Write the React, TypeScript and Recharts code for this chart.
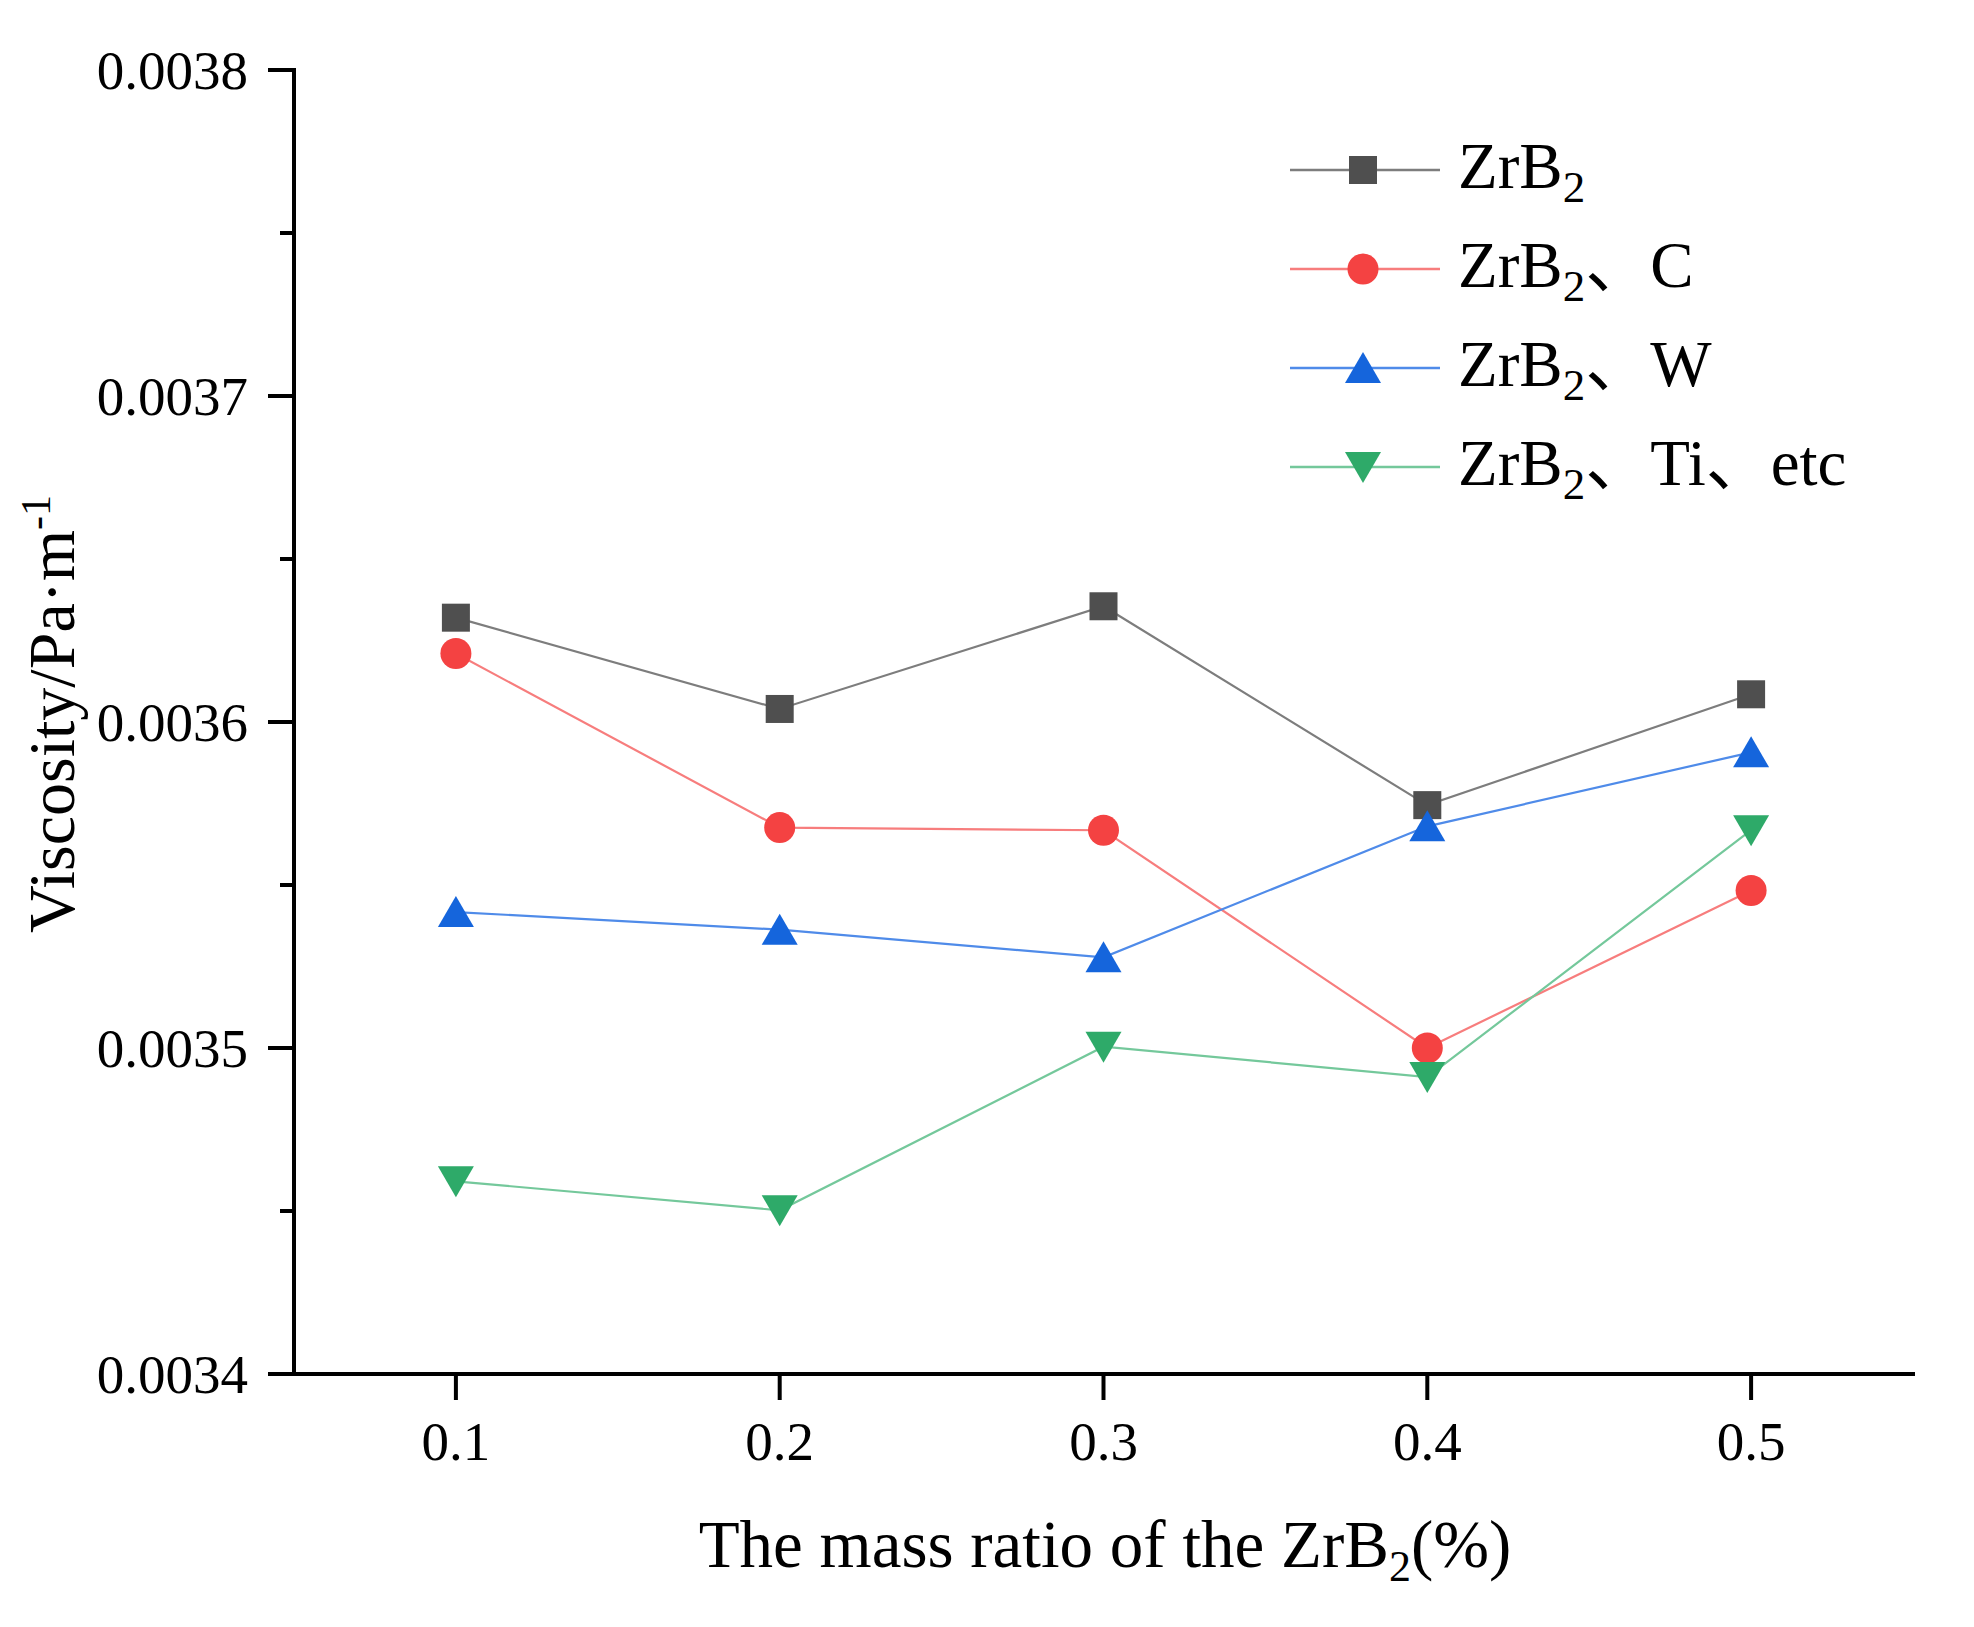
import React from "react";
import { LineChart, Line, XAxis, YAxis, Legend } from "recharts";

const xValues = [0.1, 0.2, 0.3, 0.4, 0.5];
const zrb2 = [0.003632, 0.003604, 0.0036355, 0.0035745, 0.0036085];
const zrb2C = [0.003621, 0.0035676, 0.0035668, 0.0035, 0.0035483];
const zrb2W = [0.0035417, 0.0035363, 0.0035278, 0.003568, 0.0035907];
const zrb2Ti = [0.0034591, 0.0034502, 0.0035004, 0.0034911, 0.0035668];

const xTicks = [0.1, 0.2, 0.3, 0.4, 0.5];
const xTickLabels = ["0.1", "0.2", "0.3", "0.4", "0.5"];
const yTicks = [0.0034, 0.00345, 0.0035, 0.00355, 0.0036, 0.00365, 0.0037, 0.00375, 0.0038];
const yTickLabels = ["0.0034", "", "0.0035", "", "0.0036", "", "0.0037", "", "0.0038"];

const data = xValues.map((x, i) => ({
  x,
  a: zrb2[i],
  b: zrb2C[i],
  c: zrb2W[i],
  d: zrb2Ti[i],
}));

const FONT = "'Liberation Serif', 'Times New Roman', 'Noto Sans CJK SC', serif";

const series = [
  { key: "a", name: "ZrB2", suffix: "", line: "#7d7d7d", fill: "#4f4f4f", shape: "square" },
  { key: "b", name: "ZrB2、C", suffix: "、C", line: "#f77d7d", fill: "#f44242", shape: "circle" },
  { key: "c", name: "ZrB2、W", suffix: "、W", line: "#4f8be9", fill: "#1565dc", shape: "up" },
  { key: "d", name: "ZrB2、Ti、etc", suffix: "、Ti、etc", line: "#74c89b", fill: "#2eaa69", shape: "down" },
];

function Marker({ shape, cx, cy, fill }: any) {
  if (cx == null || cy == null) return null;
  if (shape === "square") {
    return <rect x={cx - 14} y={cy - 14} width={28} height={28} fill={fill} />;
  }
  if (shape === "circle") {
    return <circle cx={cx} cy={cy} r={15.5} fill={fill} />;
  }
  if (shape === "up") {
    return <polygon points={`${cx},${cy - 16} ${cx + 18},${cy + 15} ${cx - 18},${cy + 15}`} fill={fill} />;
  }
  return <polygon points={`${cx - 18},${cy - 15} ${cx + 18},${cy - 15} ${cx},${cy + 16}`} fill={fill} />;
}

const YTick = (props: any) => {
  const { x, y, payload, index } = props;
  const v = Math.round(payload.value * 1e5);
  const major = v % 10 === 0;
  return (
    <g>
      <line x1={x - (major ? 26 : 14)} x2={x} y1={y} y2={y} stroke="#000" strokeWidth={4} />
      {major && (
        <text x={x - 46} y={y} dy="0.35em" textAnchor="end" fontSize={55} fontFamily={FONT} fill="#000">
          {yTickLabels[index] || payload.value.toFixed(4)}
        </text>
      )}
    </g>
  );
};

const XTick = (props: any) => {
  const { x, y, payload, index } = props;
  return (
    <g>
      <line x1={x} x2={x} y1={y} y2={y + 26} stroke="#000" strokeWidth={4} />
      <text x={x} y={y + 67} dy="0.35em" textAnchor="middle" fontSize={55} fontFamily={FONT} fill="#000">
        {xTickLabels[index] ?? String(payload.value)}
      </text>
    </g>
  );
};

const XLabel = () => (
  <text x={1097} y={1559} textAnchor="middle" fontSize={67} fontFamily={FONT} fill="#000">
    <tspan fill="#000">The mass ratio of the ZrB</tspan>
    <tspan fill="#000" fontSize={44} dy={14}>2</tspan>
    <tspan fill="#000" dy={-14}>(%)</tspan>
  </text>
);

const YLabel = () => (
  <text
    x={66}
    y={706}
    transform="rotate(-90 66 706)"
    textAnchor="middle"
    fontSize={66}
    fontFamily={FONT}
    fill="#000"
  >
    <tspan fill="#000">Viscosity/Pa·m</tspan>
    <tspan fill="#000" fontSize={42} dy={-24}>-1</tspan>
  </text>
);

const LegendContent = () => (
  <div style={{ fontFamily: FONT, color: "#000" }}>
    {series.map((s) => (
      <div key={s.key} style={{ display: "flex", alignItems: "center", height: 99 }}>
        <svg width={150} height={40} style={{ display: "block" }}>
          <line x1={0} x2={150} y1={20} y2={20} stroke={s.line} strokeWidth={2.5} />
          <Marker shape={s.shape} cx={73} cy={20} fill={s.fill} />
        </svg>
        <span style={{ marginLeft: 18, fontSize: 65, lineHeight: "64px", whiteSpace: "nowrap" }}>
          ZrB
          <span style={{ fontSize: 45, position: "relative", top: 14 }}>2</span>
          {s.suffix}
        </span>
      </div>
    ))}
  </div>
);

export default function App() {
  return (
    <div style={{ width: 1958, height: 1611, position: "relative" }}>
      <LineChart width={1958} height={1611} data={data} margin={{ top: 62, right: 53, bottom: 0, left: 0 }}>
        <XAxis
          dataKey="x"
          type="number"
          domain={[0.05, 0.55]}
          ticks={xTicks}
          allowDataOverflow
          height={245}
          axisLine={{ stroke: "#000", strokeWidth: 4, strokeLinecap: "square" }}
          tickLine={false}
          tickSize={0}
          tickMargin={0}
          tick={<XTick />}
          interval={0}
          label={<XLabel />}
        />
        <XAxis
          xAxisId="top"
          dataKey="x"
          type="number"
          orientation="top"
          domain={[0.05, 0.55]}
          allowDataOverflow
          height={0}
          tick={false}
          tickLine={false}
          axisLine={{ stroke: "#000", strokeWidth: 4, strokeLinecap: "square" }}
        />
        <YAxis
          type="number"
          domain={[0.0034, 0.0038]}
          ticks={yTicks}
          allowDataOverflow
          width={286}
          axisLine={{ stroke: "#000", strokeWidth: 4, strokeLinecap: "square" }}
          tickLine={false}
          tickSize={0}
          tickMargin={0}
          tick={<YTick />}
          interval={0}
          label={<YLabel />}
        />
        <YAxis
          yAxisId="right"
          type="number"
          orientation="right"
          domain={[0.0034, 0.0038]}
          allowDataOverflow
          width={0}
          tick={false}
          tickLine={false}
          axisLine={{ stroke: "#000", strokeWidth: 4, strokeLinecap: "square" }}
        />
        <Legend
          layout="vertical"
          align="center"
          verticalAlign="middle"
          content={<LegendContent />}
          wrapperStyle={{ left: 1282, top: 112, width: 640 }}
        />
        {series.map((s) => (
          <Line
            key={s.key}
            dataKey={s.key}
            name={s.name}
            type="linear"
            stroke={s.line}
            strokeWidth={2.2}
            isAnimationActive={false}
            dot={(p: any) => <Marker key={`${s.key}-${p.index}`} shape={s.shape} cx={p.cx} cy={p.cy} fill={s.fill} />}
            activeDot={false}
          />
        ))}
      </LineChart>
    </div>
  );
}
